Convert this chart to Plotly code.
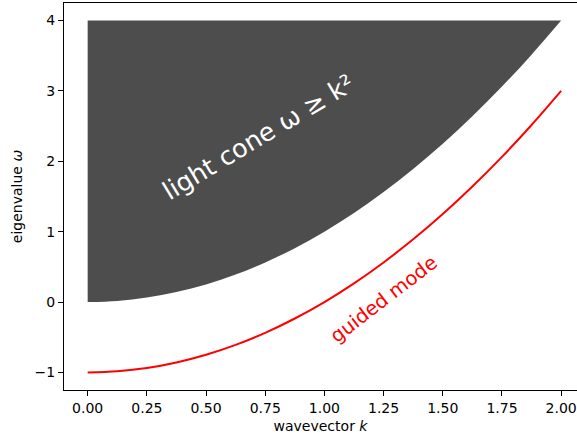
import plotly.graph_objects as go

# wavevector samples
k = [0.0, 0.125, 0.25, 0.375, 0.5, 0.625, 0.75, 0.875, 1.0,
     1.125, 1.25, 1.375, 1.5, 1.625, 1.75, 1.875, 2.0]
# lower edge of the light cone (omega = k^2)
cone_lower = [0.0, 0.016, 0.063, 0.141, 0.25, 0.391, 0.563, 0.766, 1.0,
              1.266, 1.563, 1.891, 2.25, 2.641, 3.063, 3.516, 4.0]
cone_upper = [4.0] * len(k)
# guided mode curve
guided = [-1.0, -0.984, -0.938, -0.859, -0.75, -0.609, -0.438, -0.234, 0.0,
          0.266, 0.563, 0.891, 1.25, 1.641, 2.063, 2.516, 3.0]

x_ticks = [0.0, 0.25, 0.5, 0.75, 1.0, 1.25, 1.5, 1.75, 2.0]
x_tick_text = ["0.00", "0.25", "0.50", "0.75", "1.00", "1.25", "1.50", "1.75", "2.00"]
y_ticks = [-1, 0, 1, 2, 3, 4]
y_tick_text = ["\u22121", "0", "1", "2", "3", "4"]

fig = go.Figure()
fig.add_trace(go.Scatter(x=k, y=cone_upper, mode="lines",
                         line=dict(width=0, color="#4d4d4d"),
                         hoverinfo="skip", showlegend=False))
fig.add_trace(go.Scatter(x=k, y=cone_lower, mode="lines",
                         line=dict(width=0, color="#4d4d4d", shape="spline"),
                         fill="tonexty", fillcolor="#4d4d4d",
                         hoverinfo="skip", showlegend=False))
fig.add_trace(go.Scatter(x=k, y=guided, mode="lines",
                         line=dict(width=2, color="red", shape="spline"),
                         showlegend=False))

font_family = "DejaVu Sans"
fig.add_annotation(x=0.72, y=2.35, xref="x", yref="y",
                   text="light cone \u03c9 \u2265 k\u00b2", showarrow=False,
                   textangle=-31, font=dict(family=font_family, size=25.5, color="white"))
fig.add_annotation(x=1.25, y=0.03, xref="x", yref="y",
                   text="guided mode", showarrow=False,
                   textangle=-37.5, font=dict(family=font_family, size=19.5, color="red"))

fig.update_layout(
    width=577, height=438,
    margin=dict(l=64, r=0, t=3, b=48),
    paper_bgcolor="white", plot_bgcolor="white",
    font=dict(family=font_family, size=14, color="black"),
    xaxis=dict(range=[-0.1, 2.067], tickvals=x_ticks, ticktext=x_tick_text,
               automargin=False,
               showgrid=False, zeroline=False, showline=True, linecolor="black",
               linewidth=1, mirror=True, ticks="outside", ticklen=5, tickwidth=1,
               tickcolor="black",
               title=dict(text="wavevector <i>k</i>", standoff=6,
                          font=dict(size=14))),
    yaxis=dict(range=[-1.25, 4.25], tickvals=y_ticks, ticktext=y_tick_text,
               automargin=False,
               showgrid=False, zeroline=False, showline=True, linecolor="black",
               linewidth=1, ticks="outside", ticklen=5, tickwidth=1,
               tickcolor="black",
               title=dict(text="eigenvalue <i>\u03c9</i>", standoff=8,
                          font=dict(size=14))),
)

fig.write_html("out.html", config={"displayModeBar": False},
               post_script="document.body.style.margin='0';document.body.style.padding='0';")
